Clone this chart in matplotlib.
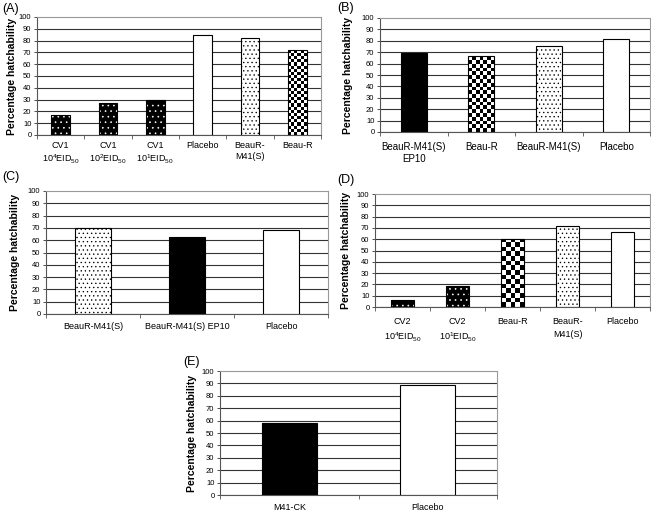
import numpy as np
import matplotlib
matplotlib.use("Agg")
import matplotlib.pyplot as plt

plt.rcParams['font.family'] = ['Liberation Sans', 'DejaVu Sans']
plt.rcParams['mathtext.fontset'] = 'custom'
plt.rcParams['mathtext.rm'] = 'Liberation Sans'
plt.rcParams['mathtext.it'] = 'Liberation Sans:italic'
plt.rcParams['mathtext.bf'] = 'Liberation Sans:bold'
plt.rcParams['hatch.linewidth'] = 0.45

# data
a_labels = ['CV1\n10$^4$EID$_{50}$', 'CV1\n10$^2$EID$_{50}$', 'CV1\n10$^1$EID$_{50}$',
            'Placebo', 'BeauR-\nM41(S)', 'Beau-R']
a_values = [17, 27, 30, 85, 82, 72]
a_fills = ['blackdots', 'blackdots', 'blackdots', 'white', 'dots', 'checker']

b_labels = ['BeauR-M41(S)\nEP10', 'Beau-R', 'BeauR-M41(S)', 'Placebo']
b_values = [69, 67, 75, 82]
b_fills = ['black', 'checker', 'dots', 'white']

c_labels = ['BeauR-M41(S)', 'BeauR-M41(S) EP10', 'Placebo']
c_values = [70, 63, 68]
c_fills = ['dots', 'black', 'white']

d_labels = ['CV2\n10$^4$EID$_{50}$', 'CV2\n10$^1$EID$_{50}$', 'Beau-R', 'BeauR-\nM41(S)', 'Placebo']
d_values = [6, 19, 60, 72, 66]
d_fills = ['blackdots', 'blackdots', 'checker', 'dots', 'white']

e_labels = ['M41-CK', 'Placebo']
e_values = [58, 89]
e_fills = ['black', 'white']

yticks = list(range(0, 101, 10))

W, H = 651, 513
fig = plt.figure(figsize=(W / 100, H / 100), dpi=100)


def pos(l, r, t, b):
    return [l / W, 1 - b / H, (r - l) / W, (b - t) / H]


def checker(ax, bar, ncols):
    # checkerboard image clipped to the bar
    x0, y0 = bar.get_x(), bar.get_y()
    x1, y1 = x0 + bar.get_width(), y0 + bar.get_height()
    (p0, q0), (p1, q1) = ax.transData.transform([(x0, y0), (x1, y1)])
    sq = abs(p1 - p0) / ncols
    nrows = max(1, int(np.ceil(abs(q1 - q0) / sq)))
    board = np.indices((nrows, ncols)).sum(axis=0) % 2
    top = y0 + nrows * sq * (y1 - y0) / abs(q1 - q0)
    im = ax.imshow(board, extent=(x0, x1, y0, top), cmap='gray',
                   interpolation='nearest', aspect='auto', zorder=2.5, origin='lower')
    im.set_clip_path(bar)


def panel(rect, letter, letter_xy, ylab_x, labels, values, fills, width=0.4,
          xfs=6.5, lsp=1.0, pad=4, nchk=6):
    ax = fig.add_axes(pos(*rect))
    n = len(values)
    ax.set_xlim(-0.5, n - 0.5)
    ax.set_ylim(0, 100)
    x = np.arange(n)
    for xi, v, f in zip(x, values, fills):
        if f == 'black':
            ax.bar(xi, v, width, color='black', zorder=2)
        elif f == 'white':
            ax.bar(xi, v, width, color='white', zorder=2)
        elif f == 'blackdots':
            ax.bar(xi, v, width, facecolor='black', edgecolor='white', hatch='...',
                   linewidth=0, zorder=2)
        elif f == 'dots':
            ax.bar(xi, v, width, facecolor='white', edgecolor='black', hatch='....',
                   linewidth=0, zorder=2)
        elif f == 'checker':
            b = ax.bar(xi, v, width, color='white', zorder=2)[0]
            checker(ax, b, nchk)
        ax.bar(xi, v, width, fill=False, edgecolor='black', linewidth=0.8, zorder=3)
    ax.set_xlim(-0.5, n - 0.5)
    ax.set_ylim(0, 100)

    ax.set_yticks(yticks)
    ax.set_yticklabels([str(t) for t in yticks], fontsize=5.5)
    ax.tick_params(axis='y', length=2.5, width=0.6, pad=1.5, color='#333333')
    ax.set_xticks(x)
    ax.set_xticklabels(labels, fontsize=xfs, linespacing=lsp, va='top')
    ax.tick_params(axis='x', length=0, pad=pad)
    ax.set_xticks(np.arange(n + 1) - 0.5, minor=True)
    ax.tick_params(axis='x', which='minor', length=3, width=0.6, color='#555555')

    ax.yaxis.grid(True, color='#333333', linewidth=0.8)
    ax.get_ygridlines()[-1].set_visible(False)
    ax.set_axisbelow(True)
    for s in ['top', 'right']:
        ax.spines[s].set_color('#999999')
        ax.spines[s].set_linewidth(0.8)
    for s in ['left', 'bottom']:
        ax.spines[s].set_color('#555555')
        ax.spines[s].set_linewidth(0.8)

    fig.text(letter_xy[0] / W, 1 - letter_xy[1] / H, letter, fontsize=9,
             ha='left', va='center')
    fig.text(ylab_x / W, 1 - (rect[2] + rect[3]) / 2 / H, 'Percentage hatchability',
             rotation=90, fontsize=7.5, fontweight='bold', ha='center', va='center')
    return ax


panel((37, 321, 17, 135), '(A)', (2, 9), 12, a_labels, a_values, a_fills,
      width=0.4, xfs=6.5, lsp=1.3, pad=4, nchk=6)
panel((380, 650, 18, 132), '(B)', (337, 8), 348, b_labels, b_values, b_fills,
      width=0.39, xfs=7, lsp=1.3, pad=7, nchk=7)
panel((46, 328, 191, 314), '(C)', (2, 177), 15, c_labels, c_values, c_fills,
      width=0.38, xfs=6.5, pad=6)
panel((375, 650, 194, 307), '(D)', (337, 180), 346, d_labels, d_values, d_fills,
      width=0.42, xfs=6.5, lsp=1.55, pad=7, nchk=5)
panel((220, 497, 371, 495), '(E)', (183, 362), 192, e_labels, e_values, e_fills,
      width=0.4, xfs=6.5, pad=6)

fig.savefig('out.png', dpi=100)
